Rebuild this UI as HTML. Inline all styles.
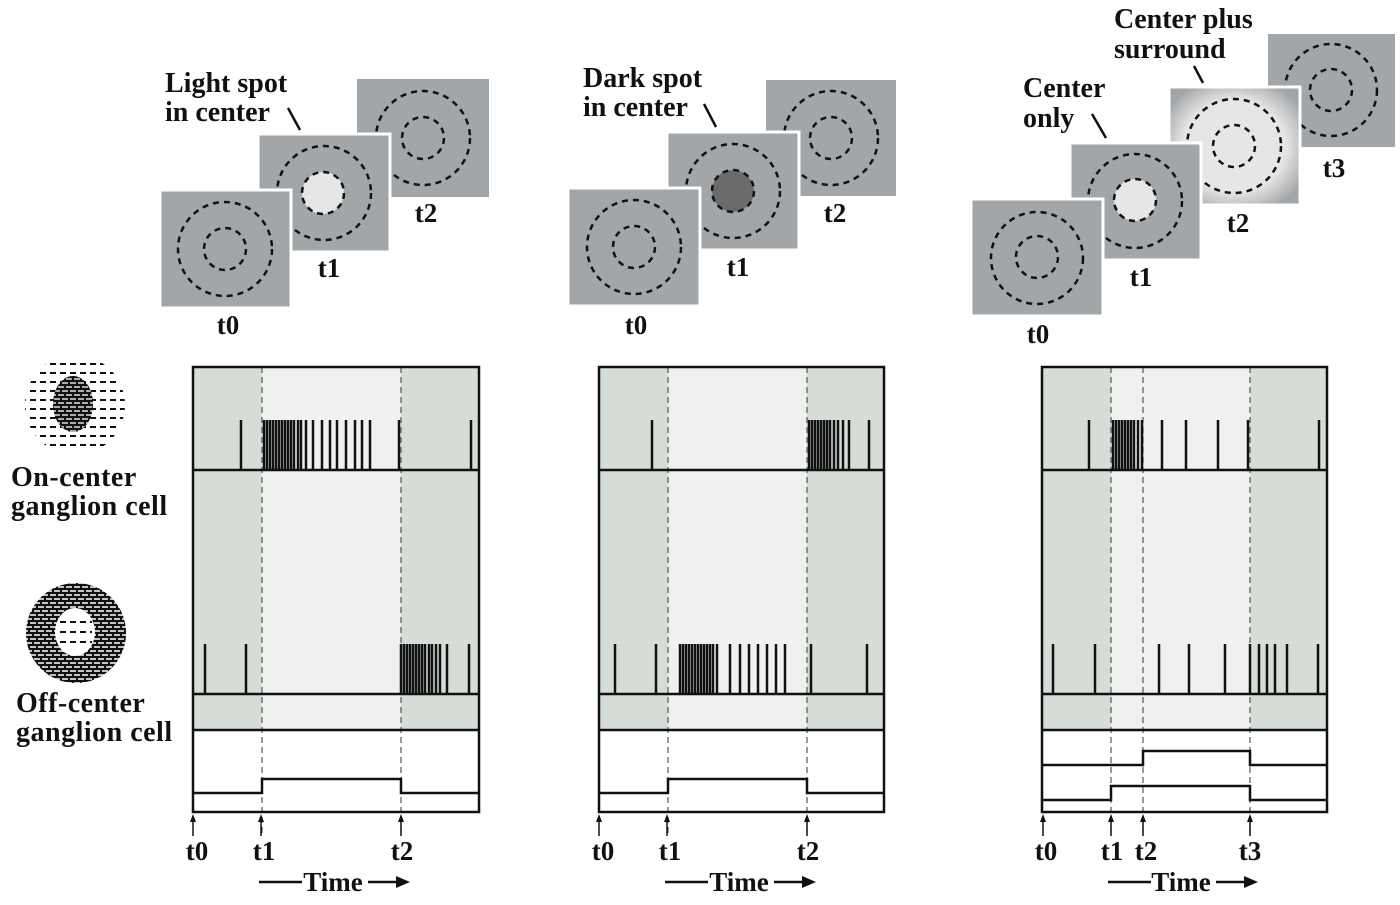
<!DOCTYPE html>
<html><head><meta charset="utf-8"><style>
html,body{margin:0;padding:0;background:#fff;}
svg{display:block;}
text{font-family:"Liberation Serif",serif;font-weight:bold;fill:#111;}
</style></head><body>
<svg width="1400" height="905" viewBox="0 0 1400 905" xmlns="http://www.w3.org/2000/svg">
<defs>
<radialGradient id="glow" cx="50%" cy="50%" r="60%">
<stop offset="0.65" stop-color="#e6e6e6"/><stop offset="1" stop-color="#a3a6a8"/>
</radialGradient>
<pattern id="hatch" width="8" height="8" patternUnits="userSpaceOnUse">
<rect width="8" height="8" fill="#fff"/>
<path d="M0 1H8M0 5H8M1 0V4M5 4V8" stroke="#111" stroke-width="2"/>
</pattern>
</defs>

<!-- ===== Stimulus squares ===== -->
<g stroke="#111" stroke-width="2.5" stroke-dasharray="6 5" fill="none">
<rect x="357" y="79" width="132" height="118" fill="#a3a6a8" stroke="none"/>
<circle cx="423" cy="138" r="47"/><circle cx="423" cy="138" r="21"/>
<rect x="258" y="134" width="132" height="118" fill="#a3a6a8" stroke="#fff" stroke-width="3" stroke-dasharray="none"/>
<circle cx="324" cy="193" r="47"/><circle cx="323" cy="193" r="21" fill="#e6e6e6"/>
<rect x="160" y="190" width="131" height="118" fill="#a3a6a8" stroke="#fff" stroke-width="3" stroke-dasharray="none"/>
<circle cx="225" cy="249" r="47"/><circle cx="225" cy="249" r="21"/>

<rect x="766" y="80" width="130" height="116" fill="#a3a6a8" stroke="none"/>
<circle cx="831" cy="138" r="47"/><circle cx="831" cy="138" r="21"/>
<rect x="667" y="132" width="132" height="118" fill="#a3a6a8" stroke="#fff" stroke-width="3" stroke-dasharray="none"/>
<circle cx="733" cy="191" r="47"/><circle cx="733" cy="191" r="21" fill="#6b6b6b"/>
<rect x="568" y="188" width="132" height="118" fill="#a3a6a8" stroke="#fff" stroke-width="3" stroke-dasharray="none"/>
<circle cx="634" cy="247" r="47"/><circle cx="634" cy="247" r="21"/>

<rect x="1268" y="34" width="127" height="113" fill="#a3a6a8" stroke="none"/>
<circle cx="1331" cy="90" r="46"/><circle cx="1331" cy="90" r="21"/>
<rect x="1169" y="87" width="131" height="118" fill="url(#glow)" stroke="#fff" stroke-width="3" stroke-dasharray="none"/>
<circle cx="1234" cy="146" r="47"/><circle cx="1234" cy="146" r="21"/>
<rect x="1070" y="143" width="131" height="117" fill="#a3a6a8" stroke="#fff" stroke-width="3" stroke-dasharray="none"/>
<circle cx="1135" cy="201" r="47"/><circle cx="1135" cy="200" r="21" fill="#e6e6e6"/>
<rect x="971" y="199" width="132" height="117" fill="#a3a6a8" stroke="#fff" stroke-width="3" stroke-dasharray="none"/>
<circle cx="1037" cy="258" r="46"/><circle cx="1037" cy="257" r="21"/>
</g>

<g font-size="28">
<text x="165" y="92">Light spot</text><text x="165" y="121">in center</text>
<text x="583" y="87">Dark spot</text><text x="583" y="116">in center</text>
<text x="1023" y="97">Center</text><text x="1023" y="127">only</text>
<text x="1114" y="28">Center plus</text><text x="1114" y="58">surround</text>
</g>
<g font-size="27" text-anchor="middle">
<text x="228" y="334">t0</text><text x="329" y="277">t1</text><text x="426" y="222">t2</text>
<text x="636" y="334">t0</text><text x="738" y="276">t1</text><text x="835" y="222">t2</text>
<text x="1038" y="343">t0</text><text x="1141" y="286">t1</text><text x="1238" y="232">t2</text><text x="1334" y="177">t3</text>
</g>
<g stroke="#111" stroke-width="2.5">
<line x1="288" y1="108" x2="300" y2="130"/>
<line x1="704" y1="104" x2="716" y2="127"/>
<line x1="1092" y1="114" x2="1106" y2="138"/>
<line x1="1194" y1="66" x2="1203" y2="83"/>
</g>

<!-- left icons -->
<g>
<clipPath id="c1"><circle cx="75" cy="405" r="50"/></clipPath>
<g clip-path="url(#c1)" stroke="#111" stroke-width="2" stroke-dasharray="6 4">
<path d="M20 364H130M20 373H130M20 382H130M20 391H130M20 400H130M20 409H130M20 418H130M20 427H130M20 436H130M20 445H130"/>
</g>
<ellipse cx="73" cy="404" rx="20" ry="28" fill="url(#hatch)"/>
<ellipse cx="73" cy="404" rx="20" ry="28" fill="#111" opacity="0.35"/>
<circle cx="76" cy="633" r="50" fill="url(#hatch)"/>
<circle cx="76" cy="633" r="50" fill="#111" opacity="0.25"/>
<ellipse cx="75" cy="632" rx="20" ry="24" fill="#fff"/>
<g stroke="#111" stroke-width="2" stroke-dasharray="6 4"><path d="M60 622H92M60 632H92M60 642H92"/></g>
</g>
<g font-size="28" letter-spacing="0.5">
<text x="11" y="486">On-center</text><text x="11" y="515">ganglion cell</text>
<text x="16" y="712">Off-center</text><text x="16" y="741">ganglion cell</text>
</g>

<!-- ===== Panel 1 ===== -->
<g>
<rect x="193" y="367" width="286" height="363" fill="#d6ddd7"/>
<rect x="262" y="367" width="139" height="363" fill="#eef1ee"/>
<rect x="193" y="730" width="286" height="82" fill="#fff"/>
<g stroke="#555" stroke-width="1.2" stroke-dasharray="6 4"><path d="M262 367V835M401 367V835"/></g>
<g stroke="#111" stroke-width="2.5" fill="none">
<path d="M241 470V420M264 470V420M267 470V420M270 470V420M273 470V420M276 470V420M279 470V420M282 470V420M285 470V420M288 470V420M291 470V420M294 470V420M298 470V420M301 470V420M306 470V420M313 470V420M322 470V420M330 470V420M337 470V420M346 470V420M355 470V420M362 470V420M370 470V420M399 470V420M471 470V420"/>
<path d="M205 694V644M246 694V644M401 694V644M404 694V644M407 694V644M410 694V644M413 694V644M416 694V644M419 694V644M422 694V644M425 694V644M429 694V644M432 694V644M436 694V644M440 694V644M447 694V644M469 694V644"/>
<path d="M193 470H479M193 694H479M193 730H479"/>
<path d="M193 793H262V779H401V793H479"/>
<rect x="193" y="367" width="286" height="445"/>
</g>
</g>

<!-- ===== Panel 2 ===== -->
<g>
<rect x="599" y="367" width="285" height="363" fill="#d6ddd7"/>
<rect x="668" y="367" width="139" height="363" fill="#eef1ee"/>
<rect x="599" y="730" width="285" height="82" fill="#fff"/>
<g stroke="#555" stroke-width="1.2" stroke-dasharray="6 4"><path d="M668 367V835M807 367V835"/></g>
<g stroke="#111" stroke-width="2.5" fill="none">
<path d="M652 470V420M809 470V420M812 470V420M815 470V420M818 470V420M821 470V420M824 470V420M827 470V420M830 470V420M834 470V420M838 470V420M843 470V420M849 470V420M869 470V420"/>
<path d="M615 694V644M656 694V644M680 694V644M683 694V644M686 694V644M689 694V644M692 694V644M695 694V644M698 694V644M701 694V644M704 694V644M707 694V644M710 694V644M713 694V644M717 694V644M730 694V644M740 694V644M749 694V644M758 694V644M767 694V644M776 694V644M785 694V644M811 694V644M867 694V644"/>
<path d="M599 470H884M599 694H884M599 730H884"/>
<path d="M599 793H668V779H807V793H884"/>
<rect x="599" y="367" width="285" height="445"/>
</g>
</g>

<!-- ===== Panel 3 ===== -->
<g>
<rect x="1042" y="367" width="285" height="363" fill="#d6ddd7"/>
<rect x="1111" y="367" width="139" height="363" fill="#eef1ee"/>
<rect x="1042" y="730" width="285" height="82" fill="#fff"/>
<g stroke="#555" stroke-width="1.2" stroke-dasharray="6 4"><path d="M1111 367V835M1143 367V835M1250 367V835"/></g>
<g stroke="#111" stroke-width="2.5" fill="none">
<path d="M1089 470V420M1113 470V420M1116 470V420M1119 470V420M1122 470V420M1125 470V420M1128 470V420M1131 470V420M1134 470V420M1138 470V420M1142 470V420M1162 470V420M1186 470V420M1218 470V420M1248 470V420M1319 470V420"/>
<path d="M1053 694V644M1095 694V644M1159 694V644M1189 694V644M1225 694V644M1250 694V644M1259 694V644M1267 694V644M1275 694V644M1287 694V644M1318 694V644"/>
<path d="M1042 470H1327M1042 694H1327M1042 730H1327"/>
<path d="M1042 765H1143V751H1250V765H1327"/>
<path d="M1042 800H1111V786H1250V800H1327"/>
<rect x="1042" y="367" width="285" height="445"/>
</g>
</g>

<!-- bottom arrows & labels -->
<g stroke="#111" stroke-width="1.5">
<path d="M193 836V820M261 836V820M401 836V820M599 836V820M667 836V820M807 836V820M1043 836V820M1111 836V820M1143 836V820M1250 836V820"/>
</g>
<g fill="#111">
<path d="M193 814l-3 8h6z"/><path d="M261 814l-3 8h6z"/><path d="M401 814l-3 8h6z"/>
<path d="M599 814l-3 8h6z"/><path d="M667 814l-3 8h6z"/><path d="M807 814l-3 8h6z"/>
<path d="M1043 814l-3 8h6z"/><path d="M1111 814l-3 8h6z"/><path d="M1143 814l-3 8h6z"/><path d="M1250 814l-3 8h6z"/>
</g>
<g font-size="27" text-anchor="middle">
<text x="197" y="860">t0</text><text x="264" y="860">t1</text><text x="402" y="860">t2</text>
<text x="603" y="860">t0</text><text x="670" y="860">t1</text><text x="808" y="860">t2</text>
<text x="1046" y="860">t0</text><text x="1112" y="860">t1</text><text x="1146" y="860">t2</text><text x="1250" y="860">t3</text>
<text x="333" y="891">Time</text><text x="739" y="891">Time</text><text x="1181" y="891">Time</text>
</g>
<g stroke="#111" stroke-width="2.5">
<path d="M259 882H302M368 882H398M665 882H708M774 882H804M1108 882H1151M1216 882H1246"/>
</g>
<g fill="#111">
<path d="M410 882L396 876V888Z"/><path d="M816 882L802 876V888Z"/><path d="M1258 882L1244 876V888Z"/>
</g>
</svg>
</body></html>
